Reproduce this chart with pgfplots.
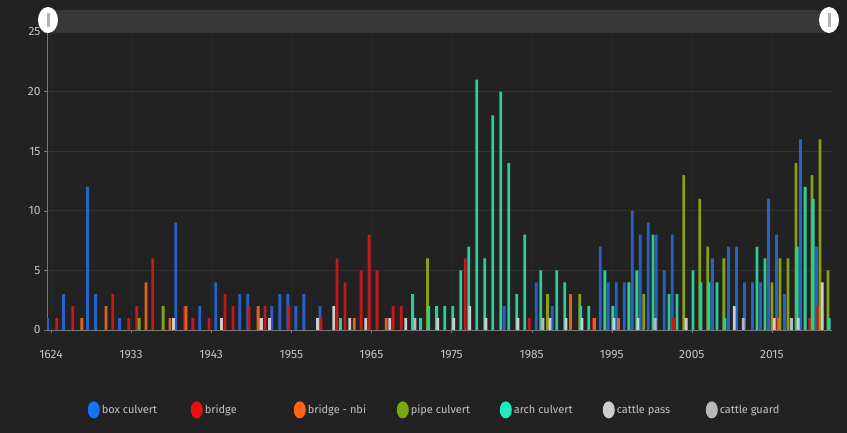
\documentclass[border=0pt]{standalone}
\usepackage{fontspec}
\setmainfont{Fira Sans}
\usepackage{pgfplots}
\pgfplotsset{compat=1.18}
\definecolor{bg}{RGB}{34,34,34}
\definecolor{sbar}{RGB}{56,56,56}
\definecolor{gridc}{RGB}{50,50,50}
\definecolor{gridx}{RGB}{42,42,42}
\definecolor{axc}{RGB}{120,120,120}
\definecolor{lab}{RGB}{195,195,195}
\definecolor{cbox}{RGB}{38,98,200}
\definecolor{cbr}{RGB}{195,25,25}
\definecolor{cnbi}{RGB}{225,100,30}
\definecolor{cpipe}{RGB}{135,160,25}
\definecolor{carch}{RGB}{45,205,155}
\definecolor{cpass}{RGB}{205,205,205}
\definecolor{cguard}{RGB}{185,185,185}
\definecolor{lbox}{RGB}{20,115,255}
\definecolor{lbr}{RGB}{235,15,15}
\definecolor{lnbi}{RGB}{255,100,20}
\definecolor{lpipe}{RGB}{120,170,15}
\definecolor{larch}{RGB}{30,235,190}
\begin{document}
\begin{tikzpicture}
\fill[bg] (0pt,0pt) rectangle (847pt,433pt);
\fill[sbar] (47pt,400pt) rectangle (829pt,423pt);
\begin{axis}[
  at={(47pt,103pt)}, anchor=south west,
  scale only axis, width=785pt, height=298pt,
  xmin=-0.5, xmax=97.5, ymin=0, ymax=25,
  ytick={0,5,...,25},
  xtick={0,10,...,90},
  xticklabels={1624,1933,1943,1955,1965,1975,1985,1995,2005,2015},
  axis lines=left,
  axis line style={-, draw=axc},
  tick style={draw=axc},
  major tick length=3pt,
  tick align=outside,
  grid=major,
  major grid style={draw=gridc, line width=0.6pt},
  major x grid style={draw=gridx, line width=0.6pt},
  tick label style={font=\fontsize{12}{13}\selectfont, text=lab},
  /pgf/number format/assume math mode=true,
  xticklabel style={yshift=-14pt},
  legend style={at={(0.494,-0.268)}, anchor=center, legend columns=7,
    draw=none, fill=none, text=lab, font=\fontsize{11}{12}\selectfont},
  legend cell align=left,
]
\addplot[ybar, bar width=2.8pt, bar shift=-3.45pt, fill=cbox, draw=none,
  legend image code/.code={\fill[lbox] (6pt,0pt) ellipse (6pt and 8.5pt);}]
coordinates {(0,1)(2,3)(5,12)(6,3)(9,1)(16,9)(19,2)(21,4)(24,3)(25,3)(28,2)(29,3)(30,3)(31,2)(32,3)(34,2)(57,2)(61,4)(63,2)(69,7)(70,4)(71,4)(72,4)(73,10)(74,8)(75,9)(76,8)(77,5)(78,8)(83,6)(85,7)(86,7)(87,4)(88,4)(89,4)(90,11)(91,8)(92,3)(94,16)(96,7)};
\addlegendentry{\makebox[87pt][l]{box culvert}}
\addplot[ybar, bar width=2.8pt, bar shift=-2.3pt, fill=cbr, draw=none,
  legend image code/.code={\fill[lbr] (6pt,0pt) ellipse (6pt and 8.5pt);}]
coordinates {(1,1)(3,2)(8,3)(10,1)(11,2)(13,6)(17,2)(18,1)(20,1)(22,3)(23,2)(25,2)(27,2)(30,2)(34,1)(36,6)(37,4)(39,5)(40,8)(41,5)(43,2)(44,2)(52,6)(60,1)(68,1)(78,1)(91,1)(95,1)(96,2)};
\addlegendentry{\makebox[87pt][l]{bridge}}
\addplot[ybar, bar width=2.8pt, bar shift=-1.15pt, fill=cnbi, draw=none,
  legend image code/.code={\fill[lnbi] (6pt,0pt) ellipse (6pt and 8.5pt);}]
coordinates {(4,1)(7,2)(12,4)(15,1)(17,2)(26,2)(38,1)(42,1)(65,3)(68,1)(71,1)(91,1)};
\addlegendentry{\makebox[87pt][l]{bridge - nbi}}
\addplot[ybar, bar width=2.8pt, bar shift=0pt, fill=cpipe, draw=none,
  legend image code/.code={\fill[lpipe] (6pt,0pt) ellipse (6pt and 8.5pt);}]
coordinates {(11,1)(14,2)(47,6)(62,3)(66,3)(74,3)(79,13)(81,11)(82,7)(84,6)(90,4)(91,6)(92,6)(93,14)(95,13)(96,16)(97,5)};
\addlegendentry{\makebox[87pt][l]{pipe culvert}}
\addplot[ybar, bar width=2.8pt, bar shift=1.15pt, fill=carch, draw=none,
  legend image code/.code={\fill[larch] (6pt,0pt) ellipse (6pt and 8.5pt);}]
coordinates {(26,1)(36,1)(45,3)(46,1)(47,2)(48,2)(49,2)(50,2)(51,5)(52,7)(53,21)(54,6)(55,18)(56,20)(57,14)(58,3)(59,8)(61,5)(63,5)(64,4)(66,2)(67,2)(69,5)(70,2)(72,4)(73,5)(75,8)(77,3)(78,3)(80,5)(81,4)(82,4)(83,4)(84,1)(88,7)(89,6)(93,7)(94,12)(95,11)(97,1)};
\addlegendentry{\makebox[87pt][l]{arch culvert}}
\addplot[ybar, bar width=2.8pt, bar shift=2.3pt, fill=cpass, draw=none,
  legend image code/.code={\fill[cpass] (6pt,0pt) ellipse (6pt and 8.5pt);}]
coordinates {(15,1)(21,1)(26,1)(27,1)(33,1)(35,2)(37,1)(39,1)(42,1)(44,1)(48,1)(50,1)(52,2)(54,1)(58,1)(62,1)(64,1)(66,1)(70,1)(73,1)(79,1)(85,2)(90,1)(93,1)(96,4)};
\addlegendentry{\makebox[87pt][l]{cattle pass}}
\addplot[ybar, bar width=2.8pt, bar shift=3.45pt, fill=cguard, draw=none,
  legend image code/.code={\fill[cguard] (6pt,0pt) ellipse (6pt and 8.5pt);}]
coordinates {(45,1)(61,1)(75,1)(86,1)(92,1)};
\addlegendentry{\makebox[60pt][l]{cattle guard}}
\end{axis}
\fill[white] (48pt,413pt) ellipse (10pt and 13pt);
\fill[gray!60] (46.5pt,406pt) rectangle (49.5pt,420pt);
\fill[white] (829pt,413pt) ellipse (10pt and 13pt);
\fill[gray!60] (827.5pt,406pt) rectangle (830.5pt,420pt);
\end{tikzpicture}
\end{document}
